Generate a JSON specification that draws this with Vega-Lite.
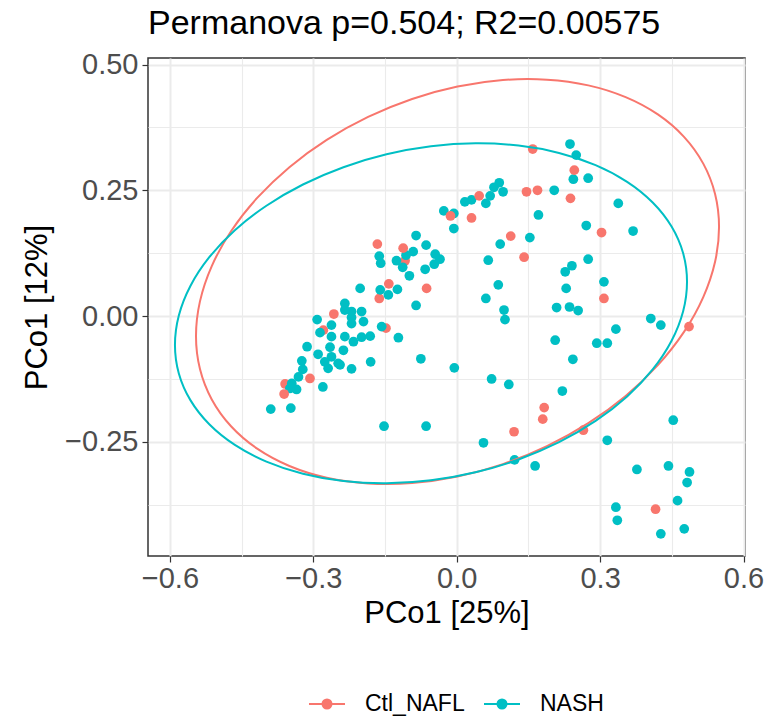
{
 "$schema": "https://vega.github.io/schema/vega-lite/v6.json",
 "width": 597, "height": 498,
 "autosize": {"type": "none"},
 "padding": {"left": 148, "top": 58, "right": 20, "bottom": 160},
 "background": "white",
 "title": {"text": "Permanova p=0.504; R2=0.00575", "anchor": "start", "frame": "group", "fontSize": 34, "font": "Liberation Sans", "fontWeight": "normal", "color": "black", "offset": 10},
 "config": {
  "view": {"stroke": "#333333", "strokeWidth": 1.5},
  "font": "Liberation Sans"
 },
 "datasets": {
  "pts": [
   {"x":-0.108,"y":0.110,"g":"Ctl_NAFL"},{"x":-0.162,"y":0.035,"g":"Ctl_NAFL"},{"x":-0.148,"y":-0.024,"g":"Ctl_NAFL"},{"x":-0.279,"y":-0.028,"g":"Ctl_NAFL"},{"x":-0.359,"y":-0.135,"g":"Ctl_NAFL"},
   {"x":0.237,"y":0.342,"g":"NASH"},{"x":0.250,"y":0.320,"g":"NASH"},{"x":0.244,"y":0.272,"g":"NASH"},{"x":0.275,"y":0.274,"g":"NASH"},{"x":0.204,"y":0.250,"g":"NASH"},
   {"x":0.338,"y":0.224,"g":"NASH"},{"x":0.171,"y":0.201,"g":"NASH"},{"x":0.271,"y":0.180,"g":"NASH"},{"x":0.369,"y":0.169,"g":"NASH"},{"x":0.153,"y":0.156,"g":"NASH"},
   {"x":0.275,"y":0.113,"g":"NASH"},{"x":0.241,"y":0.100,"g":"NASH"},{"x":0.227,"y":0.088,"g":"NASH"},{"x":0.308,"y":0.068,"g":"NASH"},{"x":0.229,"y":0.055,"g":"NASH"},
   {"x":0.209,"y":0.017,"g":"NASH"},{"x":0.236,"y":0.018,"g":"NASH"},{"x":0.254,"y":0.011,"g":"NASH"},{"x":0.406,"y":-0.005,"g":"NASH"},{"x":0.427,"y":-0.018,"g":"NASH"},
   {"x":0.333,"y":-0.026,"g":"NASH"},{"x":0.206,"y":-0.048,"g":"NASH"},{"x":0.293,"y":-0.054,"g":"NASH"},{"x":0.315,"y":-0.054,"g":"NASH"},{"x":0.243,"y":-0.086,"g":"NASH"},
   {"x":0.221,"y":-0.149,"g":"NASH"},{"x":0.453,"y":-0.207,"g":"NASH"},{"x":0.315,"y":-0.247,"g":"NASH"},{"x":0.164,"y":-0.298,"g":"NASH"},{"x":0.377,"y":-0.305,"g":"NASH"},
   {"x":0.443,"y":-0.298,"g":"NASH"},{"x":0.487,"y":-0.310,"g":"NASH"},{"x":0.482,"y":-0.331,"g":"NASH"},{"x":0.462,"y":-0.367,"g":"NASH"},{"x":0.333,"y":-0.380,"g":"NASH"},
   {"x":0.336,"y":-0.406,"g":"NASH"},{"x":0.427,"y":-0.433,"g":"NASH"},{"x":0.476,"y":-0.423,"g":"NASH"},{"x":0.091,"y":0.143,"g":"NASH"},{"x":0.066,"y":0.111,"g":"NASH"},
   {"x":0.087,"y":0.062,"g":"NASH"},{"x":0.061,"y":0.035,"g":"NASH"},{"x":0.099,"y":0.012,"g":"NASH"},{"x":0.101,"y":-0.007,"g":"NASH"},{"x":0.089,"y":0.265,"g":"NASH"},
   {"x":0.078,"y":0.256,"g":"NASH"},{"x":0.097,"y":0.247,"g":"NASH"},{"x":0.070,"y":0.239,"g":"NASH"},{"x":0.061,"y":0.224,"g":"NASH"},{"x":0.031,"y":0.231,"g":"NASH"},
   {"x":0.017,"y":0.227,"g":"NASH"},{"x":-0.006,"y":0.204,"g":"NASH"},{"x":-0.027,"y":0.209,"g":"NASH"},{"x":-0.006,"y":0.174,"g":"NASH"},{"x":-0.085,"y":0.160,"g":"NASH"},
   {"x":-0.064,"y":0.141,"g":"NASH"},{"x":-0.162,"y":0.119,"g":"NASH"},{"x":-0.159,"y":0.105,"g":"NASH"},{"x":-0.126,"y":0.110,"g":"NASH"},{"x":-0.106,"y":0.121,"g":"NASH"},
   {"x":-0.091,"y":0.128,"g":"NASH"},{"x":-0.113,"y":0.097,"g":"NASH"},{"x":-0.099,"y":0.080,"g":"NASH"},{"x":-0.066,"y":0.093,"g":"NASH"},{"x":-0.045,"y":0.123,"g":"NASH"},
   {"x":-0.035,"y":0.113,"g":"NASH"},{"x":-0.047,"y":0.103,"g":"NASH"},{"x":-0.202,"y":0.055,"g":"NASH"},{"x":-0.160,"y":0.052,"g":"NASH"},{"x":-0.143,"y":0.042,"g":"NASH"},
   {"x":-0.124,"y":0.053,"g":"NASH"},{"x":-0.085,"y":0.021,"g":"NASH"},{"x":-0.234,"y":0.025,"g":"NASH"},{"x":-0.220,"y":0.009,"g":"NASH"},{"x":-0.199,"y":0.009,"g":"NASH"},
   {"x":-0.195,"y":-0.011,"g":"NASH"},{"x":-0.220,"y":-0.015,"g":"NASH"},{"x":-0.157,"y":-0.021,"g":"NASH"},{"x":-0.122,"y":-0.043,"g":"NASH"},{"x":-0.234,"y":-0.041,"g":"NASH"},
   {"x":-0.216,"y":-0.051,"g":"NASH"},{"x":-0.199,"y":-0.042,"g":"NASH"},{"x":-0.181,"y":-0.040,"g":"NASH"},{"x":-0.237,"y":-0.068,"g":"NASH"},{"x":-0.244,"y":-0.097,"g":"NASH"},
   {"x":-0.220,"y":-0.105,"g":"NASH"},{"x":-0.180,"y":-0.091,"g":"NASH"},{"x":-0.075,"y":-0.085,"g":"NASH"},{"x":-0.005,"y":-0.103,"g":"NASH"},{"x":0.073,"y":-0.125,"g":"NASH"},
   {"x":0.109,"y":-0.136,"g":"NASH"},{"x":-0.152,"y":-0.219,"g":"NASH"},{"x":-0.064,"y":-0.219,"g":"NASH"},{"x":0.056,"y":-0.252,"g":"NASH"},{"x":0.121,"y":-0.286,"g":"NASH"},
   {"x":-0.234,"y":0.012,"g":"NASH"},{"x":-0.292,"y":-0.007,"g":"NASH"},{"x":-0.286,"y":-0.033,"g":"NASH"},{"x":-0.262,"y":-0.018,"g":"NASH"},{"x":-0.262,"y":-0.041,"g":"NASH"},
   {"x":-0.313,"y":-0.061,"g":"NASH"},{"x":-0.265,"y":-0.062,"g":"NASH"},{"x":-0.262,"y":-0.081,"g":"NASH"},{"x":-0.290,"y":-0.076,"g":"NASH"},{"x":-0.276,"y":-0.091,"g":"NASH"},
   {"x":-0.248,"y":-0.094,"g":"NASH"},{"x":-0.269,"y":-0.104,"g":"NASH"},{"x":-0.324,"y":-0.089,"g":"NASH"},{"x":-0.322,"y":-0.106,"g":"NASH"},{"x":-0.331,"y":-0.121,"g":"NASH"},
   {"x":-0.345,"y":-0.134,"g":"NASH"},{"x":-0.335,"y":-0.146,"g":"NASH"},{"x":-0.349,"y":-0.144,"g":"NASH"},{"x":-0.280,"y":-0.141,"g":"NASH"},{"x":-0.389,"y":-0.185,"g":"NASH"},
   {"x":-0.347,"y":-0.183,"g":"NASH"},{"x":-0.220,"y":-0.003,"g":"NASH"},
   {"x":0.159,"y":0.332,"g":"Ctl_NAFL"},{"x":0.246,"y":0.290,"g":"Ctl_NAFL"},{"x":0.169,"y":0.250,"g":"Ctl_NAFL"},{"x":0.146,"y":0.247,"g":"Ctl_NAFL"},{"x":0.238,"y":0.234,"g":"Ctl_NAFL"},
   {"x":0.303,"y":0.166,"g":"Ctl_NAFL"},{"x":0.308,"y":0.035,"g":"Ctl_NAFL"},{"x":0.486,"y":-0.021,"g":"Ctl_NAFL"},{"x":0.183,"y":-0.182,"g":"Ctl_NAFL"},{"x":0.180,"y":-0.205,"g":"Ctl_NAFL"},
   {"x":0.265,"y":-0.227,"g":"Ctl_NAFL"},{"x":0.416,"y":-0.384,"g":"Ctl_NAFL"},{"x":0.047,"y":0.239,"g":"Ctl_NAFL"},{"x":-0.013,"y":0.199,"g":"Ctl_NAFL"},{"x":0.031,"y":0.195,"g":"Ctl_NAFL"},
   {"x":0.113,"y":0.159,"g":"Ctl_NAFL"},{"x":0.141,"y":0.117,"g":"Ctl_NAFL"},{"x":-0.166,"y":0.143,"g":"Ctl_NAFL"},{"x":-0.112,"y":0.135,"g":"Ctl_NAFL"},{"x":-0.063,"y":0.055,"g":"Ctl_NAFL"},
   {"x":-0.142,"y":0.064,"g":"Ctl_NAFL"},{"x":0.120,"y":-0.230,"g":"Ctl_NAFL"},{"x":-0.257,"y":0.004,"g":"Ctl_NAFL"},{"x":-0.307,"y":-0.124,"g":"Ctl_NAFL"},{"x":-0.361,"y":-0.155,"g":"Ctl_NAFL"}
  ],
  "ell": [
   {"o":0,"x":0.5488,"y":0.1769,"g":"Ctl_NAFL"},{"o":1,"x":0.5405,"y":0.2426,"g":"Ctl_NAFL"},{"o":2,"x":0.5158,"y":0.3030,"g":"Ctl_NAFL"},{"o":3,"x":0.4755,"y":0.3563,"g":"Ctl_NAFL"},
   {"o":4,"x":0.4208,"y":0.4008,"g":"Ctl_NAFL"},{"o":5,"x":0.3534,"y":0.4352,"g":"Ctl_NAFL"},{"o":6,"x":0.2753,"y":0.4586,"g":"Ctl_NAFL"},{"o":7,"x":0.1888,"y":0.4699,"g":"Ctl_NAFL"},
   {"o":8,"x":0.0967,"y":0.4692,"g":"Ctl_NAFL"},{"o":9,"x":0.0017,"y":0.4563,"g":"Ctl_NAFL"},{"o":10,"x":-0.0933,"y":0.4316,"g":"Ctl_NAFL"},{"o":11,"x":-0.1854,"y":0.3959,"g":"Ctl_NAFL"},
   {"o":12,"x":-0.2719,"y":0.3502,"g":"Ctl_NAFL"},{"o":13,"x":-0.3500,"y":0.2960,"g":"Ctl_NAFL"},{"o":14,"x":-0.4174,"y":0.2348,"g":"Ctl_NAFL"},{"o":15,"x":-0.4721,"y":0.1687,"g":"Ctl_NAFL"},
   {"o":16,"x":-0.5124,"y":0.0994,"g":"Ctl_NAFL"},{"o":17,"x":-0.5371,"y":0.0292,"g":"Ctl_NAFL"},{"o":18,"x":-0.5454,"y":-0.0397,"g":"Ctl_NAFL"},{"o":19,"x":-0.5371,"y":-0.1054,"g":"Ctl_NAFL"},
   {"o":20,"x":-0.5124,"y":-0.1658,"g":"Ctl_NAFL"},{"o":21,"x":-0.4721,"y":-0.2191,"g":"Ctl_NAFL"},{"o":22,"x":-0.4174,"y":-0.2636,"g":"Ctl_NAFL"},{"o":23,"x":-0.3500,"y":-0.2980,"g":"Ctl_NAFL"},
   {"o":24,"x":-0.2719,"y":-0.3214,"g":"Ctl_NAFL"},{"o":25,"x":-0.1854,"y":-0.3327,"g":"Ctl_NAFL"},{"o":26,"x":-0.0933,"y":-0.3320,"g":"Ctl_NAFL"},{"o":27,"x":0.0017,"y":-0.3191,"g":"Ctl_NAFL"},
   {"o":28,"x":0.0967,"y":-0.2944,"g":"Ctl_NAFL"},{"o":29,"x":0.1888,"y":-0.2587,"g":"Ctl_NAFL"},{"o":30,"x":0.2753,"y":-0.2130,"g":"Ctl_NAFL"},{"o":31,"x":0.3534,"y":-0.1588,"g":"Ctl_NAFL"},
   {"o":32,"x":0.4208,"y":-0.0976,"g":"Ctl_NAFL"},{"o":33,"x":0.4755,"y":-0.0315,"g":"Ctl_NAFL"},{"o":34,"x":0.5158,"y":0.0378,"g":"Ctl_NAFL"},{"o":35,"x":0.5405,"y":0.1080,"g":"Ctl_NAFL"},
   {"o":0,"x":0.4818,"y":0.0682,"g":"NASH"},{"o":1,"x":0.4737,"y":0.1248,"g":"NASH"},{"o":2,"x":0.4495,"y":0.1779,"g":"NASH"},{"o":3,"x":0.4100,"y":0.2258,"g":"NASH"},
   {"o":4,"x":0.3565,"y":0.2669,"g":"NASH"},{"o":5,"x":0.2905,"y":0.3001,"g":"NASH"},{"o":6,"x":0.2140,"y":0.3243,"g":"NASH"},{"o":7,"x":0.1294,"y":0.3389,"g":"NASH"},
   {"o":8,"x":0.0392,"y":0.3433,"g":"NASH"},{"o":9,"x":-0.0538,"y":0.3374,"g":"NASH"},{"o":10,"x":-0.1468,"y":0.3215,"g":"NASH"},{"o":11,"x":-0.2370,"y":0.2959,"g":"NASH"},
   {"o":12,"x":-0.3216,"y":0.2615,"g":"NASH"},{"o":13,"x":-0.3981,"y":0.2193,"g":"NASH"},{"o":14,"x":-0.4641,"y":0.1707,"g":"NASH"},{"o":15,"x":-0.5176,"y":0.1170,"g":"NASH"},
   {"o":16,"x":-0.5571,"y":0.0599,"g":"NASH"},{"o":17,"x":-0.5813,"y":0.0012,"g":"NASH"},{"o":18,"x":-0.5894,"y":-0.0574,"g":"NASH"},{"o":19,"x":-0.5813,"y":-0.1140,"g":"NASH"},
   {"o":20,"x":-0.5571,"y":-0.1671,"g":"NASH"},{"o":21,"x":-0.5176,"y":-0.2150,"g":"NASH"},{"o":22,"x":-0.4641,"y":-0.2561,"g":"NASH"},{"o":23,"x":-0.3981,"y":-0.2893,"g":"NASH"},
   {"o":24,"x":-0.3216,"y":-0.3135,"g":"NASH"},{"o":25,"x":-0.2370,"y":-0.3281,"g":"NASH"},{"o":26,"x":-0.1468,"y":-0.3325,"g":"NASH"},{"o":27,"x":-0.0538,"y":-0.3266,"g":"NASH"},
   {"o":28,"x":0.0392,"y":-0.3107,"g":"NASH"},{"o":29,"x":0.1294,"y":-0.2851,"g":"NASH"},{"o":30,"x":0.2140,"y":-0.2507,"g":"NASH"},{"o":31,"x":0.2905,"y":-0.2085,"g":"NASH"},
   {"o":32,"x":0.3565,"y":-0.1599,"g":"NASH"},{"o":33,"x":0.4100,"y":-0.1062,"g":"NASH"},{"o":34,"x":0.4495,"y":-0.0491,"g":"NASH"},{"o":35,"x":0.4737,"y":0.0096,"g":"NASH"}
  ]
 },
 "encoding": {
  "x": {"field": "x", "type": "quantitative", "scale": {"domain": [-0.6458, 0.6031], "nice": false, "zero": false},
   "axis": {"title": "PCo1 [25%]", "values": [-0.6,-0.45,-0.3,-0.15,0,0.15,0.3,0.45,0.6],
    "labelExpr": "abs(datum.value/0.3 - round(datum.value/0.3)) < 0.01 ? format(datum.value, '.1f') : ''",
    "grid": true, "gridColor": "#EBEBEB",
    "gridWidth": {"condition": {"test": "abs(datum.value/0.3 - round(datum.value/0.3)) < 0.01", "value": 2}, "value": 1.1},
    "tickOpacity": {"condition": {"test": "abs(datum.value/0.3 - round(datum.value/0.3)) < 0.01", "value": 1}, "value": 0},
    "tickColor": "#333333", "tickWidth": 1.2, "tickSize": 6, "domain": false,
    "labelFontSize": 29, "labelColor": "#4D4D4D", "labelPadding": 2, "labelFlush": false, "labelOverlap": false, "labelFont": "Liberation Sans",
    "titleFontSize": 31, "titleFontWeight": "normal", "titleColor": "black", "titlePadding": 5, "titleFont": "Liberation Sans"}},
  "y": {"field": "y", "type": "quantitative", "scale": {"domain": [-0.477, 0.513], "nice": false, "zero": false},
   "axis": {"title": "PCo1 [12%]", "values": [-0.375,-0.25,-0.125,0,0.125,0.25,0.375,0.5],
    "labelExpr": "abs(datum.value*4 - round(datum.value*4)) < 0.01 ? format(datum.value, '.2f') : ''",
    "grid": true, "gridColor": "#EBEBEB",
    "gridWidth": {"condition": {"test": "abs(datum.value*4 - round(datum.value*4)) < 0.01", "value": 2}, "value": 1.1},
    "tickOpacity": {"condition": {"test": "abs(datum.value*4 - round(datum.value*4)) < 0.01", "value": 1}, "value": 0},
    "tickColor": "#333333", "tickWidth": 1.2, "tickSize": 6, "domain": false,
    "labelFontSize": 29, "labelColor": "#4D4D4D", "labelPadding": 4, "labelFlush": false, "labelOverlap": false, "labelFont": "Liberation Sans",
    "titleFontSize": 31, "titleFontWeight": "normal", "titleColor": "black", "titlePadding": 11, "titleFont": "Liberation Sans"}}
 },
 "layer": [
  {"data": {"name": "pts"},
   "mark": {"type": "circle", "size": 95, "opacity": 1},
   "encoding": {"color": {"field": "g", "type": "nominal",
     "scale": {"domain": ["Ctl_NAFL", "NASH"], "range": ["#F8766D", "#00BFC4"]},
     "legend": {"orient": "none", "legendX": 160, "legendY": 627, "direction": "horizontal", "title": null,
      "labelFontSize": 23, "labelColor": "black", "labelFont": "Liberation Sans",
      "symbolType": "M-1,0H1M0.25,0A0.25,0.25,0,1,1,-0.25,0A0.25,0.25,0,1,1,0.25,0Z",
      "symbolSize": 1296, "symbolStrokeWidth": 2, "labelOffset": 19, "columnPadding": 15, "padding": 0,
      "encode": {"symbols": {"update": {"stroke": {"scale": "color", "field": "value"}, "fill": {"scale": "color", "field": "value"}, "opacity": {"value": 1}}}}}},
    "order": {"value": 0}}},
  {"data": {"name": "ell"},
   "mark": {"type": "line", "strokeWidth": 2, "interpolate": "cardinal-closed"},
   "encoding": {"color": {"field": "g", "type": "nominal", "legend": null},
    "order": {"field": "o", "type": "quantitative"}}}
 ]
}
